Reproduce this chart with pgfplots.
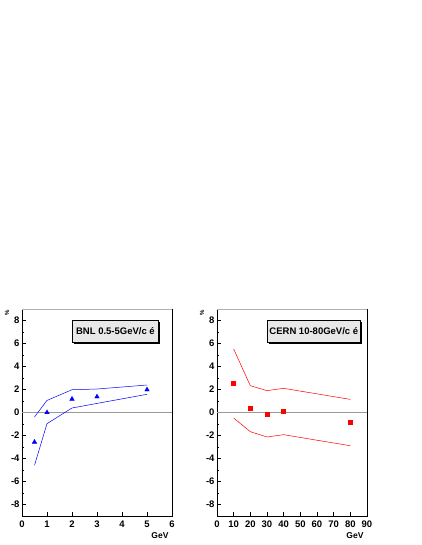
\documentclass[border=0pt]{standalone}
\usepackage{pgfplots}
\pgfplotsset{compat=1.18}
\usepackage{fontspec}
\setmainfont{Liberation Sans}
\usetikzlibrary{shadows}

% ROOT-like look shared by both pads
\pgfplotsset{
  rootpad/.style={
    scale only axis,
    width=150pt, height=207pt,
    ymin=-9, ymax=9,
    ytick={-8,-6,...,8},
    minor y tick num=1,
    xtick pos=left, ytick pos=left,
    tick align=inside,
    major tick length=4pt, minor tick length=2pt,
    tick style={black, line width=0.4pt},
    axis line style={black, line width=0.6pt},
    /pgf/number format/assume math mode=true,
    tick label style={font=\fontsize{9.5}{10}\selectfont\bfseries},
    yticklabel style={xshift=1pt},
    xticklabel style={yshift=-1pt},
    xlabel={GeV},
    xlabel style={at={(rel axis cs:1,0)}, anchor=north east, yshift=-13pt,
      font=\fontsize{8.5}{9}\selectfont\bfseries},
    clip=false,
  },
}
\tikzset{
  tagbox/.style={draw=black, fill=gray!18, line width=0.4pt,
    font=\fontsize{9.5}{10}\selectfont\bfseries, inner sep=2pt,
    drop shadow={shadow xshift=2pt, shadow yshift=-2pt, fill=black, opacity=1}},
}

\begin{document}
\begin{tikzpicture}
\path[use as bounding box] (0,0) rectangle (421pt,545pt);

% BNL pad
\begin{axis}[rootpad, at={(22pt,29pt)}, anchor=south west,
  xmin=0, xmax=6, xtick={0,1,...,6}]
\addplot[gray!80, line width=0.7pt] coordinates {(0,0) (6,0)};
\addplot[blue, line width=0.5pt] coordinates {
  (0.5,-0.39) (1,1.05) (2,1.98) (3,2.04) (5,2.39)};
\addplot[blue, line width=0.5pt] coordinates {
  (0.5,-4.6) (1,-0.97) (2,0.39) (3,0.79) (5,1.58)};
\addplot[only marks, blue, mark=triangle*, mark size=2.6pt] coordinates {
  (0.5,-2.57) (1,0) (2,1.17) (3,1.37) (5,1.98)};
\draw[gray!60, line width=0.6pt] (rel axis cs:0,1) -- (rel axis cs:1,1);
\node[tagbox, minimum width=86pt, minimum height=22pt, anchor=north west]
  at (rel axis cs:0.335,0.947) {BNL 0.5-5GeV/c é};
\end{axis}

% CERN pad
\begin{axis}[rootpad, at={(217pt,29pt)}, anchor=south west,
  xmin=0, xmax=90, xtick={0,10,...,90}]
\addplot[gray!80, line width=0.7pt] coordinates {(0,0) (90,0)};
\addplot[red, line width=0.5pt] coordinates {
  (10,5.52) (20,2.33) (30,1.9) (40,2.1) (80,1.14)};
\addplot[red, line width=0.5pt] coordinates {
  (10,-0.48) (20,-1.67) (30,-2.13) (40,-1.93) (80,-2.89)};
\addplot[only marks, red, mark=square*, mark size=2pt] coordinates {
  (10,2.53) (20,0.36) (30,-0.13) (40,0.1) (80,-0.86)};
\draw[gray!60, line width=0.6pt] (rel axis cs:0,1) -- (rel axis cs:1,1);
\node[tagbox, minimum width=92pt, minimum height=22pt, anchor=north west]
  at (rel axis cs:0.335,0.947) {CERN 10-80GeV/c é};
\end{axis}

% percent labels of the y axes
\node[rotate=90, font=\fontsize{6}{7}\selectfont\bfseries] at (7pt,232pt) {\%};
\node[rotate=90, font=\fontsize{6}{7}\selectfont\bfseries] at (202pt,232pt) {\%};
\end{tikzpicture}
\end{document}
